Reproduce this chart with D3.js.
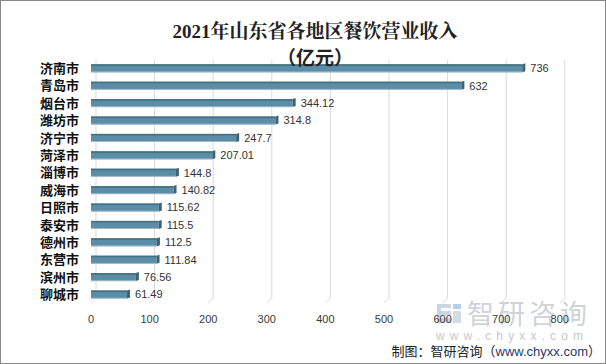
<!DOCTYPE html>
<html><head><meta charset="utf-8">
<script src="https://cdn.jsdelivr.net/npm/d3@7/dist/d3.min.js"></script>
<style>body{margin:0;background:#fff}svg{display:block}</style>
</head><body><svg id="c" width="606" height="364"></svg>
<script>
const categories = ["济南市","青岛市","烟台市","潍坊市","济宁市","菏泽市","淄博市","威海市","日照市","泰安市","德州市","东营市","滨州市","聊城市"];
const values = [736,632,344.12,314.8,247.7,207.01,144.8,140.82,115.62,115.5,112.5,111.84,76.56,61.49];
const valueLabels = ["736","632","344.12","314.8","247.7","207.01","144.8","140.82","115.62","115.5","112.5","111.84","76.56","61.49"];
const ticks = [0,100,200,300,400,500,600,700,800];
const titleLines = ["2021年山东省各地区餐饮营业收入","（亿元）"];

const svg = d3.select("#c");
const W=606,H=364;
svg.append("rect").attr("x",0.5).attr("y",0.5).attr("width",W-1).attr("height",H-1).attr("fill","#fff").attr("stroke","#888");

const x = d3.scaleLinear().domain([0,800]).range([91,559.8]);
const y = d3.scaleBand().domain(categories).range([59.6,303.2]).paddingInner(0.54).paddingOuter(0.27);
const dx=5, dy=5, floorY=303;

// gridlines (3D back wall) and floor diagonals
const g = svg.append("g");
ticks.forEach(t=>{
  g.append("line").attr("x1",x(t)+dx).attr("x2",x(t)+dx).attr("y1",60).attr("y2",floorY-dy)
   .attr("stroke","#d9d9d9").attr("stroke-width",1);
  g.append("line").attr("x1",x(t)).attr("y1",floorY).attr("x2",x(t)+dx).attr("y2",floorY-dy)
   .attr("stroke","#d9d9d9").attr("stroke-width",1);
});

// watermark (behind the chart text)
const wm = svg.append("g");
wm.append("path").attr("d","M437,304 h14 v4 h-10 v3 h10 v4 h-10 v3 h10 v5 h-14 Z").attr("fill","#c9d6e3");
wm.append("rect").attr("x",453).attr("y",304).attr("width",8).attr("height",5).attr("fill","#b7cfe6");
wm.append("rect").attr("x",453).attr("y",311).attr("width",8).attr("height",12).attr("fill","#d3dbe3");
wm.append("text").attr("x",467).attr("y",324).attr("font-family","Noto Sans CJK SC, sans-serif")
  .attr("font-size",27).attr("letter-spacing",4).attr("fill","#cfd3d7").text("智研咨询");
wm.append("text").attr("x",436).attr("y",340).attr("font-family","Liberation Sans, Arial, sans-serif")
  .attr("font-size",12).attr("fill","#c8c8c8").attr("textLength",147).attr("lengthAdjust","spacing").text("www.chyxx.com");

// bars
const bars = svg.append("g");
categories.forEach((c,i)=>{
  const y0=y(c), h=y.bandwidth(), x0=x(0), x1=x(values[i]);
  bars.append("rect").attr("x",x0).attr("y",y0).attr("width",x1-x0).attr("height",h).attr("fill","#5b8ea6");
  bars.append("rect").attr("x",x0).attr("y",y0).attr("width",x1-x0).attr("height",1.6).attr("fill","#44707f");
  bars.append("path").attr("d",`M${x1},${y0} L${x1+3},${y0-1} L${x1+3},${y0+h-1} L${x1},${y0+h} Z`).attr("fill","#3d6272");
  bars.append("rect").attr("x",x0).attr("y",y0+h-0.8).attr("width",x1-x0).attr("height",0.8).attr("fill","#a9c3d0");
  bars.append("text").attr("x",x1+8).attr("y",y0+h/2).attr("dy","0.36em")
    .attr("font-family","Liberation Sans, Arial, sans-serif").attr("font-size",11).attr("fill","#333")
    .text(valueLabels[i]);
  bars.append("text").attr("x",79).attr("y",y0+h/2).attr("dy","0.36em").attr("text-anchor","end")
    .attr("font-family","Noto Sans CJK SC, sans-serif").attr("font-weight","bold").attr("font-size",13).attr("fill","#111")
    .text(c);
});

// x axis tick labels
ticks.forEach(t=>{
  svg.append("text").attr("x",x(t)).attr("y",323).attr("text-anchor","middle")
    .attr("font-family","Liberation Sans, Arial, sans-serif").attr("font-size",11).attr("fill","#3a3a3a").text(t);
});

// title
svg.append("text").attr("x",315).attr("y",38).attr("text-anchor","middle")
  .attr("font-family","Liberation Serif, Noto Serif CJK SC, Noto Sans CJK SC, serif").attr("font-weight","bold")
  .attr("font-size",19).attr("fill","#222").text(titleLines[0]);
svg.append("text").attr("x",315).attr("y",65).attr("text-anchor","middle")
  .attr("font-family","Noto Sans CJK SC, serif").attr("font-weight","bold")
  .attr("font-size",19).attr("fill","#222").text(titleLines[1]);

// source
const src = svg.append("text").attr("x",601).attr("y",356).attr("text-anchor","end")
  .attr("font-family","Noto Sans CJK SC, sans-serif").attr("font-size",13).attr("fill","#222");
src.append("tspan").text("制图：智研咨询（");
src.append("tspan").attr("fill","#1f3a6a").attr("font-family","Liberation Sans, Arial, sans-serif").text("www.chyxx.com");
src.append("tspan").text("）");
</script></body></html>
